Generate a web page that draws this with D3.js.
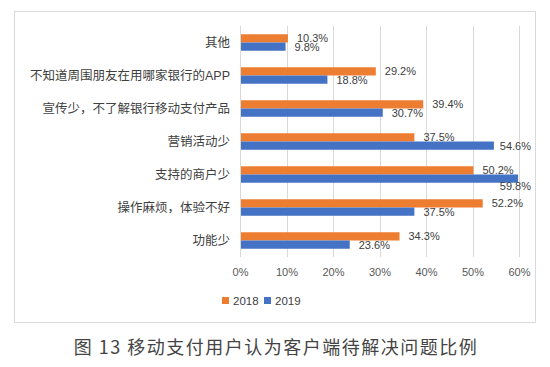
<!DOCTYPE html>
<html><head><meta charset="utf-8">
<script src="https://cdn.jsdelivr.net/npm/d3@7"></script>
<style>body{margin:0;background:#fff;}svg{display:block;}</style>
</head><body><svg id="c" width="550" height="367"></svg>
<script>
const categories = ["其他","不知道周围朋友在用哪家银行的APP","宣传少，不了解银行移动支付产品","营销活动少","支持的商户少","操作麻烦，体验不好","功能少"];
const series = ["2018","2019"];
const values2018 = [10.3,29.2,39.4,37.5,50.2,52.2,34.3];
const values2019 = [9.8,18.8,30.7,54.6,59.8,37.5,23.6];
const ticks = [0,10,20,30,40,50,60];
const colors = ["#ED7D31","#4472C4"];
const caption = "图 13 移动支付用户认为客户端待解决问题比例";

const svg = d3.select("#c");
const font = "'Liberation Sans','Noto Sans CJK SC',sans-serif";
svg.append("rect").attr("x",14.5).attr("y",11.5).attr("width",521).attr("height",311)
  .attr("fill","#fff").attr("stroke","#d9d9d9");

const x = d3.scaleLinear().domain([0,60]).range([240,519]);
const y = d3.scaleBand().domain(categories).range([26,257]).paddingInner(0.5).paddingOuter(0.25);
const ys = d3.scaleBand().domain(series).range([0,y.bandwidth()]);

// gridlines
svg.append("g").selectAll("line").data(ticks.slice(1)).join("line")
  .attr("x1",d=>Math.round(x(d))+0.5).attr("x2",d=>Math.round(x(d))+0.5)
  .attr("y1",26).attr("y2",257).attr("stroke","#d9d9d9");

const data = [values2018, values2019];
const labelMax = 531;
series.forEach((s,i)=>{
  const g = svg.append("g");
  g.selectAll("rect").data(categories).join("rect")
    .attr("x",x(0)).attr("y",c=>y(c)+ys(s))
    .attr("width",(c,j)=>x(data[i][j])-x(0)).attr("height",ys.bandwidth())
    .attr("fill",colors[i]);
  g.selectAll("text").data(categories).join("text")
    .attr("x",(c,j)=>x(data[i][j])+9).attr("y",c=>y(c)+ys(s)+ys.bandwidth()/2+4)
    .attr("font-family",font).attr("font-size",11).attr("fill","#404040")
    .text((c,j)=>data[i][j].toFixed(1)+"%")
    .each(function(c,j){
      const el = d3.select(this);
      const w = this.getComputedTextLength();
      const x0 = +el.attr("x");
      if (x0 + w > labelMax) {
        const nx = labelMax - w;
        el.attr("x", nx);
        if (nx < x(data[i][j]) + 2) el.attr("y", +el.attr("y") + 7);
      }
    });
});

// axis line
svg.append("line").attr("x1",240.5).attr("x2",240.5).attr("y1",26).attr("y2",257).attr("stroke","#d9d9d9");

// category labels
const yAxis = d3.axisLeft(y).tickSize(0).tickPadding(10);
const ga = svg.append("g").attr("transform","translate(240,0)").call(yAxis);
ga.select(".domain").remove();
ga.selectAll("text").attr("font-family",font).attr("font-size",12.5).attr("fill","#404040");

// x axis labels
const xAxis = d3.axisBottom(x).tickValues(ticks).tickSize(0).tickPadding(10).tickFormat(d=>d+"%");
const gx = svg.append("g").attr("transform","translate(0,258)").call(xAxis);
gx.select(".domain").remove();
gx.selectAll("text").attr("font-family",font).attr("font-size",11).attr("fill","#595959");

// legend
const lg = svg.append("g").attr("transform","translate(222,297)");
const lx = [0,42];
series.forEach((s,i)=>{
  lg.append("rect").attr("x",lx[i]).attr("y",0).attr("width",7).attr("height",7).attr("fill",colors[i]);
  lg.append("text").attr("x",lx[i]+11).attr("y",7.5).attr("font-family",font).attr("font-size",11.5)
    .attr("fill","#404040").text(s);
});

// caption
svg.append("text").attr("x",276).attr("y",354).attr("text-anchor","middle")
  .attr("font-family","'Noto Sans CJK SC',sans-serif").attr("font-size",18).attr("letter-spacing",1.5)
  .attr("fill","#444").text(caption);
</script></body></html>
